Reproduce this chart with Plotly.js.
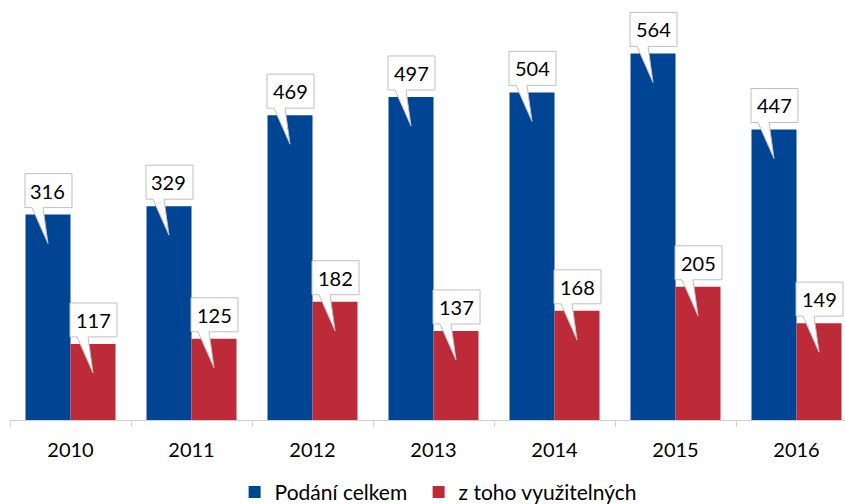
<!DOCTYPE html>
<html>
<head>
<meta charset="utf-8">
<script src="https://cdn.plot.ly/plotly-3.0.1.min.js"></script>
<style>html,body{margin:0;padding:0;background:#fff;}#chart{width:845px;height:504px;}</style>
</head>
<body>
<div id="chart"></div>
<script>
var years = ['2010', '2011', '2012', '2013', '2014', '2015', '2016'];
var podaniCelkem = [316, 329, 469, 497, 504, 564, 447];
var zTohoVyuzitelnych = [117, 125, 182, 137, 168, 205, 149];
var seriesNames = ['Podání celkem', 'z toho využitelných'];
var seriesColors = ['#004494', '#BE2B38'];

var FONT = 'Lato, "Open Sans", sans-serif';
var bargap = 0.256;
var half = (1 - bargap) / 4;

var traces = [
  {type: 'bar', x: years, y: podaniCelkem, name: seriesNames[0],
   marker: {color: seriesColors[0]}, hoverinfo: 'skip', legendwidth: 139},
  {type: 'bar', x: years, y: zTohoVyuzitelnych, name: seriesNames[1],
   marker: {color: seriesColors[1]}, hoverinfo: 'skip'}
];

// callout outline relative to the top-centre of each bar (pixels, up = +)
var calloutPath = 'M-23,7 L-16,7 L0,-29 L-5,7 L24,7 L24,41 L-23,41 Z';

var shapes = [];
var annotations = [];
[podaniCelkem, zTohoVyuzitelnych].forEach(function (vals, s) {
  var off = s === 0 ? -half : half;
  vals.forEach(function (v, i) {
    shapes.push({
      type: 'path', xref: 'x', yref: 'y',
      xsizemode: 'pixel', ysizemode: 'pixel',
      xanchor: i + off, yanchor: v,
      path: calloutPath,
      fillcolor: '#ffffff',
      line: {color: '#bfbfbf', width: 1}
    });
    annotations.push({
      xref: 'x', yref: 'y', x: i + off, y: v, yshift: 24,
      text: String(v), showarrow: false,
      font: {family: FONT, size: 20, color: '#000'}
    });
  });
});

var layout = {
  width: 845, height: 504,
  margin: {l: 10, r: 0, t: 5, b: 84, autoexpand: false},
  paper_bgcolor: '#fff', plot_bgcolor: '#fff',
  barmode: 'group', bargap: bargap, bargroupgap: 0,
  font: {family: FONT, size: 20, color: '#000'},
  xaxis: {
    type: 'category', range: [-0.5, 6.4008],
    tickson: 'boundaries', ticks: 'outside', ticklen: 6, tickcolor: '#d0d0d0',
    showline: true, linecolor: '#d0d0d0', linewidth: 1,
    showgrid: false, zeroline: false,
    tickfont: {family: FONT, size: 20, color: '#000'},
    ticklabelstandoff: 12
  },
  yaxis: {visible: false, range: [0, 638.5], showgrid: false, zeroline: false},
  showlegend: true,
  legend: {
    orientation: 'h', xanchor: 'left', x: 0.269, yanchor: 'top', y: -0.125,
    font: {family: FONT, size: 21, color: '#000'},
    bgcolor: 'rgba(0,0,0,0)'
  },
  shapes: shapes,
  annotations: annotations
};

Plotly.newPlot('chart', traces, layout, {staticPlot: true, displayModeBar: false});
</script>
</body>
</html>
